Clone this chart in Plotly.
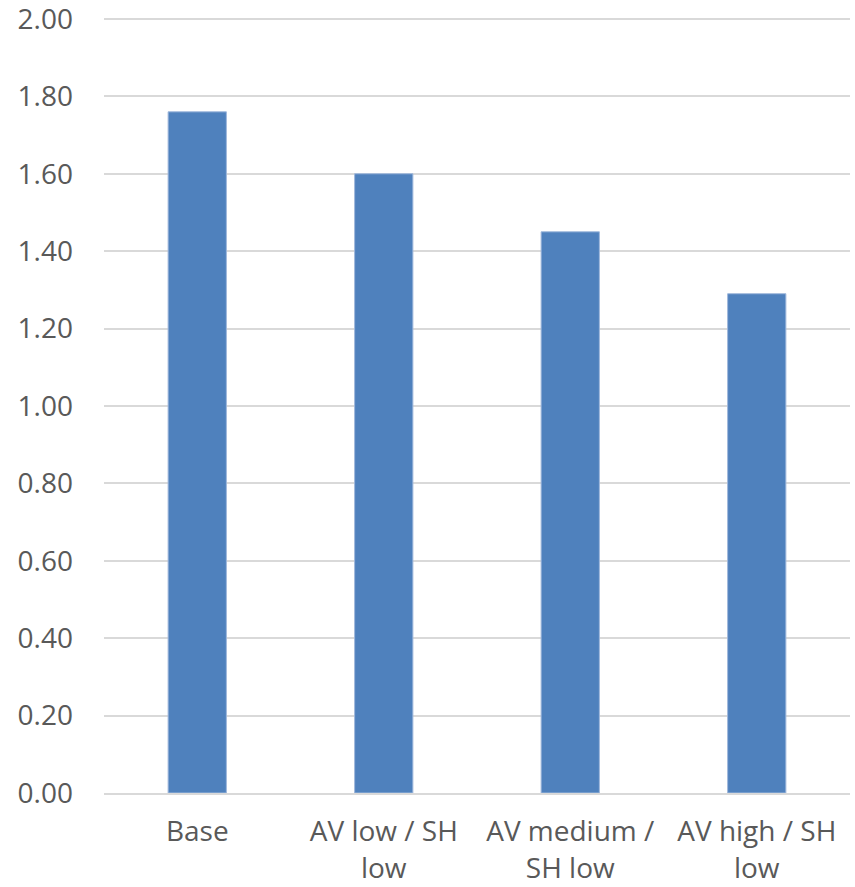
import plotly.graph_objects as go

# Scenario labels (wrapped as shown on the category axis) and values
categories = ["Base", "AV low / SH<br>low", "AV medium /<br>SH low", "AV high / SH<br>low"]
values = [1.76, 1.60, 1.45, 1.29]

y_ticks = [0.0, 0.2, 0.4, 0.6, 0.8, 1.0, 1.2, 1.4, 1.6, 1.8, 2.0]
y_tick_labels = [f"{v:.2f}" for v in y_ticks]

label_font = dict(family="Open Sans, Lato, sans-serif", size=28, color="#595959")
grid_color = "#d9d9d9"

fig = go.Figure(
    go.Bar(
        x=categories,
        y=values,
        marker=dict(color="#4F81BD", line=dict(color="#9fb8dc", width=1)),
        hoverinfo="x+y",
    )
)

fig.update_layout(
    width=855,
    height=887,
    margin=dict(l=104, r=5, t=17, b=94),
    paper_bgcolor="white",
    plot_bgcolor="white",
    bargap=0.6875,
    showlegend=False,
    font=label_font,
)

fig.update_xaxes(
    automargin=False,
    showgrid=False,
    showline=True,
    linecolor=grid_color,
    linewidth=1.5,
    ticks="",
    tickfont=label_font,
    ticklabelstandoff=13,
    ticklabeloverflow="allow",
)

fig.update_yaxes(
    automargin=False,
    range=[0, 2.005],
    tickvals=y_ticks,
    ticktext=y_tick_labels,
    showgrid=True,
    gridcolor=grid_color,
    gridwidth=1.5,
    zeroline=False,
    showline=False,
    ticks="",
    tickfont=label_font,
    ticklabelstandoff=30,
    ticklabeloverflow="allow",
)

fig.write_html("out.html")
